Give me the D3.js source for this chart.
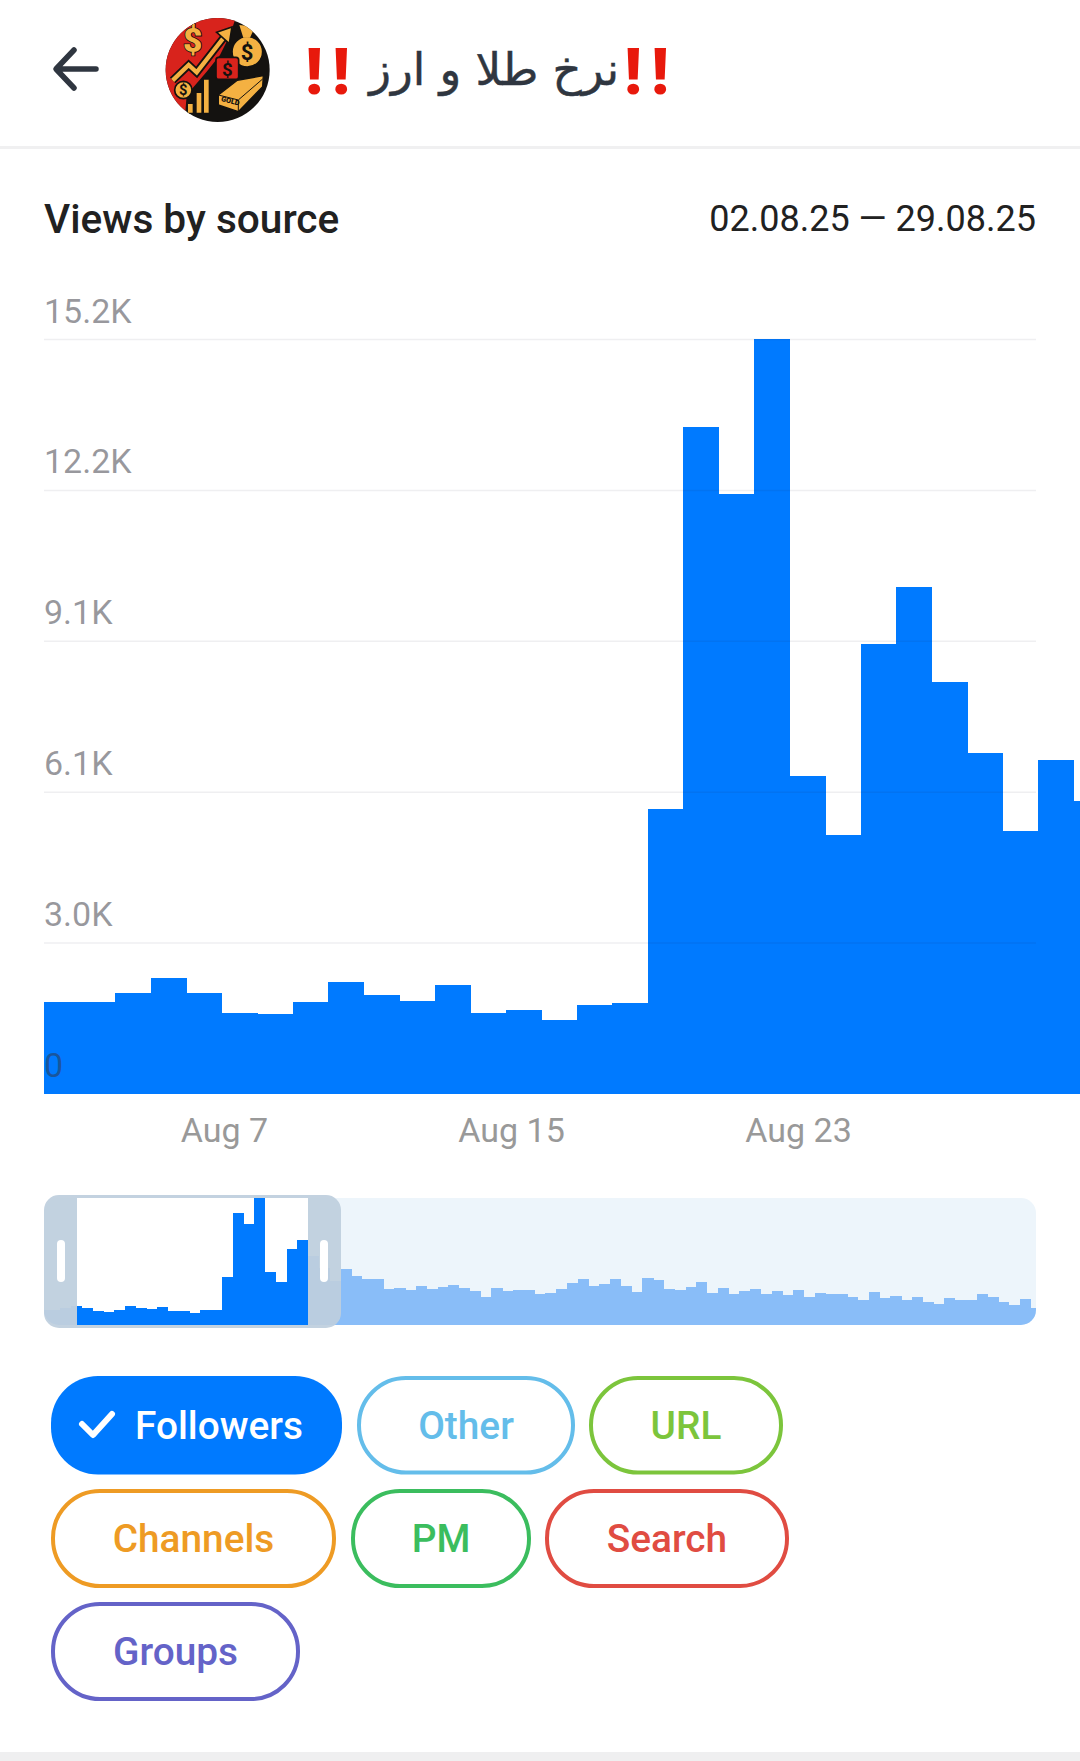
<!DOCTYPE html>
<html><head><meta charset="utf-8">
<style>html,body{margin:0;padding:0;background:#fff}svg{display:block}text{font-family:Roboto,sans-serif}</style>
<script src="https://cdn.jsdelivr.net/npm/d3@7"></script></head><body>
<svg id="c" width="1080" height="1761"></svg>
<script>
// ---- data ----
const views = [1837,1837,2021,2325,2021,1616,1596,1837,2242,1980,1857,2182,1616,1676,1473,1777,1817,5731,13423,12076,15198,6392,5206,9052,10202,8290,6856,5290,6717,5893,
5486,5486,4289,4409,4170,4648,4289,4529,4768,4409,4050,3332,4409,4050,4170,4170,3691,3810,4289,5007,5486,4648,4888,5486,4648,3930,5606,5367,4289,4170,4529,5127,3810,4409,3691,4050,4289,3691,4050,3571,4170,3332,3810,3691,3691,3332,2973,3930,3212,3451,2973,3332,2733,2494,3212,2973,2973,3691,3332,2733,2374,3092,2015];
const visibleBars = 30;
const yMax = 15200;
const yTicks = [0,3040,6080,9120,12160,15200];
const yTickLabels = ["0","3.0K","6.1K","9.1K","12.2K","15.2K"];
const xTicks = ["2025-08-07","2025-08-15","2025-08-23"];
const sources = ["Followers","Other","URL","Channels","PM","Search","Groups"];
const sourceColors = ["#007aff","#64bdea","#7cc53c","#ee9b24","#3bbd5e","#e04c42","#6463c8"];
const sourceActive = [true,false,false,false,false,false,false];
const channelName = "نرخ طلا و ارز";
const dateRange = "02.08.25 — 29.08.25";
const chartTitle = "Views by source";
// ---- layout ----
const chipBoxes = [[51,342,1376,1474.5],[357,575,1376,1474.5],[589,783,1376,1474.5],[51,336,1489,1588],[351,531,1489,1588],[545,789,1489,1588],[51,300,1602,1701]];
const svg = d3.select("#c");
const blue = "#007aff";

// header
svg.append("rect").attr("x",0).attr("y",146).attr("width",1080).attr("height",3).attr("fill","#f0f0f1");
svg.append("path").attr("d","M96 69H58M74 50L56 69L74 88").attr("fill","none").attr("stroke","#2f3640").attr("stroke-width",5.5).attr("stroke-linecap","round").attr("stroke-linejoin","round");

// avatar
const defs = svg.append("defs");
defs.append("clipPath").attr("id","av").append("circle").attr("cx",203).attr("cy",195).attr("r",156);
const av = svg.append("g").attr("transform","translate(150,5) scale(0.3333)").append("g").attr("clip-path","url(#av)");
const gold="#f4b142", ink="#141210", red="#d8231c";
av.append("rect").attr("width",400).attr("height",400).attr("fill",ink);
av.append("path").attr("d","M0 0H270L240 90L210 150L170 200L110 270L100 400H0Z").attr("fill",red);
const zig="M68 226L116 180L140 202L232 84";
av.append("path").attr("d",zig).attr("fill","none").attr("stroke",ink).attr("stroke-width",24);
av.append("path").attr("d",zig).attr("fill","none").attr("stroke",gold).attr("stroke-width",13);
av.append("path").attr("d","M200 82L246 66L238 116Z").attr("fill",gold).attr("stroke",ink).attr("stroke-width",5);
av.append("text").text("$").attr("x",128).attr("y",140).attr("text-anchor","middle").attr("font-size",100).attr("font-weight",900).attr("fill",gold).attr("stroke",ink).attr("stroke-width",5).style("paint-order","stroke");
av.append("circle").attr("cx",292).attr("cy",140).attr("r",46).attr("fill",gold).attr("stroke",ink).attr("stroke-width",5);
av.append("path").attr("d","M268 60L315 65L300 98H280Z").attr("fill",gold);
av.append("text").text("$").attr("x",291).attr("y",164).attr("text-anchor","middle").attr("font-size",66).attr("font-weight",700).attr("fill",ink);
av.append("rect").attr("x",198).attr("y",157).attr("width",68).attr("height",66).attr("rx",8).attr("fill",red).attr("stroke",ink).attr("stroke-width",5);
av.append("text").text("$").attr("x",232).attr("y",212).attr("text-anchor","middle").attr("font-size",56).attr("font-weight",700).attr("fill",ink);
av.append("path").attr("d","M205 270L262 226L340 212L338 245L265 320L205 300Z").attr("fill",gold).attr("stroke",ink).attr("stroke-width",4);
av.append("path").attr("d","M205 270L265 285L338 222M265 285V320").attr("fill","none").attr("stroke",ink).attr("stroke-width",3);
av.append("text").text("GOLD").attr("transform","translate(212,288) rotate(14)").attr("font-size",22).attr("font-weight",900).attr("fill",ink);
av.append("circle").attr("cx",100).attr("cy",255).attr("r",26).attr("fill",gold).attr("stroke",ink).attr("stroke-width",5);
av.append("text").text("$").attr("x",100).attr("y",271).attr("text-anchor","middle").attr("font-size",44).attr("font-weight",700).attr("fill",ink);
av.append("path").attr("d","M112 295H130V325H112ZM138 262H156V325H138ZM160 222H178V325H160Z").attr("fill",gold).attr("stroke",ink).attr("stroke-width",4);

// channel name
const bang = (x)=>svg.append("text").text("!!").attr("x",x).attr("y",94).attr("font-family","Roboto").attr("font-size",65).attr("font-weight",900).attr("fill","#e8190c").attr("letter-spacing",9);
bang(305); bang(624);
svg.append("text").text(channelName).attr("x",619).attr("y",85).attr("direction","rtl").attr("text-anchor","start").style("font-family","'DejaVu Sans'").style("font-weight",500).style("stroke","#2f3640").style("stroke-width",0.5).attr("font-size",45).attr("fill","#2f3640");

// title
svg.append("text").text(chartTitle).attr("x",44).attr("y",232.5).attr("font-size",40.6).attr("font-weight",500).attr("fill","#212121");
svg.append("text").text(dateRange).attr("x",1036).attr("y",230.5).attr("text-anchor","end").attr("font-size",36).attr("fill","#212121");

// main chart
const barStep = 35.5, plotLeft = 44.2;
const x = d3.scaleBand().domain(d3.range(visibleBars)).range([plotLeft, plotLeft + barStep*visibleBars]);
const y = d3.scaleLinear().domain([0,yMax]).range([1093.5,339]);
svg.append("g").selectAll("rect").data(views.slice(0,visibleBars)).join("rect")
  .attr("x",(d,i)=>x(i)).attr("width",x.bandwidth()+0.4).attr("y",d=>y(d)).attr("height",d=>y(0)-y(d))
  .attr("fill",blue).attr("shape-rendering","crispEdges");
const yAxis = d3.axisRight(y).tickValues(yTicks).tickSize(992).tickFormat((d,i)=>yTickLabels[i]);
const gy = svg.append("g").attr("transform",`translate(44,0)`).call(yAxis);
gy.select(".domain").remove();
gy.selectAll("line").attr("stroke","#223").attr("stroke-opacity",0.07).attr("stroke-width",1.5);
gy.selectAll("line").filter(d=>d===0).remove();
gy.selectAll("text").attr("x",0).attr("dy",-17).attr("text-anchor","start").attr("font-size",34).attr("font-family","Roboto").attr("fill","rgba(50,50,60,.5)");

const parse = d3.utcParse("%Y-%m-%d");
const tx = d3.scaleUtc().domain([parse("2025-08-07"),parse("2025-08-23")]).range([224,798]);
const xAxis = d3.axisBottom(tx).tickValues(xTicks.map(parse)).tickSize(0).tickFormat(d3.utcFormat("%b %-d"));
const gx = svg.append("g").attr("transform","translate(0,1093)").call(xAxis);
gx.select(".domain").remove();
gx.selectAll("text").attr("y",0).attr("dy",49).attr("font-size",34).attr("font-family","Roboto").attr("fill","#999");

// overview
const trackL=44, trackR=1036, trackT=1198, trackB=1325;
defs.append("clipPath").attr("id","trk").append("rect").attr("x",trackL).attr("y",trackT).attr("width",trackR-trackL).attr("height",trackB-trackT).attr("rx",15);
const miniStep = (trackR-trackL)/(views.length-1);
const mx = d3.scaleBand().domain(d3.range(views.length)).range([trackL-miniStep/2, trackR+miniStep/2]);
const my = d3.scaleLinear().domain([0,yMax]).range([trackB,trackT]);
const mini = svg.append("g").attr("clip-path","url(#trk)");
mini.append("rect").attr("x",trackL).attr("y",trackT).attr("width",trackR-trackL).attr("height",trackB-trackT).attr("fill","#edf5fb");
const winL=77, winR=308, selL=44, selR=341, selT=1195, selB=1328;
const miniBars = (g,fill)=>g.selectAll("rect.b").data(views).join("rect").attr("class","b")
  .attr("x",(d,i)=>mx(i)).attr("width",mx.bandwidth()+0.3).attr("y",d=>my(d)).attr("height",d=>trackB-my(d)).attr("fill",fill).attr("shape-rendering","crispEdges");
miniBars(mini.append("g"),"#89bdf8");
defs.append("clipPath").attr("id","win").append("rect").attr("x",winL).attr("y",trackT).attr("width",winR-winL).attr("height",trackB-trackT);
mini.append("rect").attr("x",winL).attr("y",trackT).attr("width",winR-winL).attr("height",trackB-trackT).attr("fill","#fff");
miniBars(mini.append("g").attr("clip-path","url(#win)"),blue);
const r=15;
svg.append("path").attr("fill-rule","evenodd").attr("fill","rgb(190,206,221)").attr("fill-opacity",0.92)
 .attr("d",`M${selL+r} ${selT}H${selR-r}A${r} ${r} 0 0 1 ${selR} ${selT+r}V${selB-r}A${r} ${r} 0 0 1 ${selR-r} ${selB}H${selL+r}A${r} ${r} 0 0 1 ${selL} ${selB-r}V${selT+r}A${r} ${r} 0 0 1 ${selL+r} ${selT}Z M${winL} ${trackT}V${trackB}H${winR}V${trackT}Z`);
[57,320].forEach(gx0=>svg.append("rect").attr("x",gx0).attr("y",1240).attr("width",8).attr("height",42).attr("rx",4).attr("fill","#fff"));

// chips
const chips = svg.append("g").selectAll("g").data(sources).join("g");
chips.append("rect")
 .attr("x",(d,i)=>chipBoxes[i][0]+(sourceActive[i]?0:2)).attr("y",(d,i)=>chipBoxes[i][2]+(sourceActive[i]?0:2))
 .attr("width",(d,i)=>chipBoxes[i][1]-chipBoxes[i][0]-(sourceActive[i]?0:4)).attr("height",(d,i)=>chipBoxes[i][3]-chipBoxes[i][2]-(sourceActive[i]?0:4))
 .attr("rx",47).attr("fill",(d,i)=>sourceActive[i]?sourceColors[i]:"#fff").attr("stroke",(d,i)=>sourceActive[i]?"none":sourceColors[i]).attr("stroke-width",4);
chips.append("text").text(d=>d)
 .attr("x",(d,i)=>sourceActive[i]?135:(chipBoxes[i][0]+chipBoxes[i][1])/2).attr("y",(d,i)=>chipBoxes[i][2]+62.5)
 .attr("text-anchor",(d,i)=>sourceActive[i]?"start":"middle").attr("font-size",38.8).attr("font-weight",500)
 .attr("fill",(d,i)=>sourceActive[i]?"#fff":sourceColors[i]);
svg.append("path").attr("d","M82 1424L93 1435L112 1414").attr("fill","none").attr("stroke","#fff").attr("stroke-width",6).attr("stroke-linecap","round").attr("stroke-linejoin","round");
svg.append("rect").attr("x",0).attr("y",1752).attr("width",1080).attr("height",9).attr("fill","#efeff0");
</script></body></html>
